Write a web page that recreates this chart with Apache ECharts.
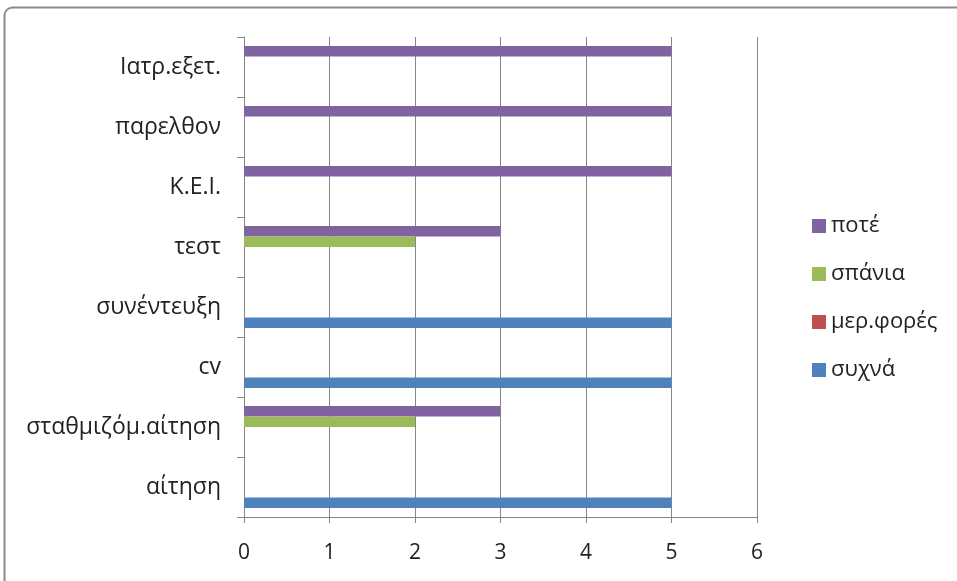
<!DOCTYPE html>
<html>
<head>
<meta charset="utf-8">
<script src="https://cdn.jsdelivr.net/npm/echarts@6/dist/echarts.min.js"></script>
<style>
  html, body { margin: 0; padding: 0; background: #fff; }
  #chart { width: 957px; height: 581px; }
</style>
</head>
<body>
<div id="chart"></div>
<script>
// Categories listed bottom to top along the vertical axis
const categories = ['αίτηση', 'σταθμιζόμ.αίτηση', 'cv', 'συνέντευξη', 'τεστ', 'Κ.Ε.Ι.', 'παρελθον', 'Ιατρ.εξετ.'];

// Series values, one per category (same order as categories)
const poteValues      = [0, 3, 0, 0, 3, 5, 5, 5];
const spaniaValues    = [0, 2, 0, 0, 2, 0, 0, 0];
const merForesValues  = [0, 0, 0, 0, 0, 0, 0, 0];
const syxnaValues     = [5, 0, 5, 5, 0, 0, 0, 0];

const seriesNames  = ['ποτέ', 'σπάνια', 'μερ.φορές', 'συχνά'];
const seriesColors = ['#8064A2', '#9BBB59', '#C0504D', '#4F81BD'];
const xTicks = [0, 1, 2, 3, 4, 5, 6];

const font = '"Open Sans", "Noto Sans", "DejaVu Sans", sans-serif';
const chart = echarts.init(document.getElementById('chart'), null, { renderer: 'canvas' });

const valueSets = [poteValues, spaniaValues, merForesValues, syxnaValues];

chart.setOption({
  animation: false,
  backgroundColor: '#ffffff',
  graphic: [{
    type: 'rect',
    shape: { x: 4.5, y: 7.5, width: 1000, height: 620, r: 8 },
    style: { fill: 'none', stroke: '#8a8a8a', lineWidth: 2 },
    silent: true,
    z: 0
  }],
  grid: { left: 244, right: 200, top: 37, bottom: 64, containLabel: false },
  legend: {
    orient: 'vertical',
    left: 807,
    top: 210,
    itemWidth: 14,
    itemHeight: 14,
    itemGap: 26,
    icon: 'rect',
    data: seriesNames,
    textStyle: { fontFamily: font, fontSize: 22, color: '#222' }
  },
  xAxis: {
    type: 'value',
    min: xTicks[0],
    max: xTicks[xTicks.length - 1],
    interval: 1,
    axisLine: { show: true, lineStyle: { color: '#868686', width: 1 } },
    axisTick: { show: true, length: 6, lineStyle: { color: '#868686' } },
    axisLabel: { fontFamily: font, fontSize: 21, color: '#222', margin: 26 },
    splitLine: { show: true, lineStyle: { color: '#868686', width: 1 } }
  },
  yAxis: {
    type: 'category',
    data: categories,
    axisLine: { show: true, lineStyle: { color: '#868686', width: 1 } },
    axisTick: { show: true, length: 7, inside: false, lineStyle: { color: '#868686' } },
    axisLabel: { fontFamily: font, fontSize: 23, color: '#222', margin: 23 },
    splitLine: { show: false }
  },
  series: valueSets.map((vals, i) => ({
    name: seriesNames[i],
    type: 'bar',
    data: vals,
    barWidth: 10.5,
    barGap: '0%',
    itemStyle: { color: seriesColors[i] }
  }))
});
</script>
</body>
</html>
